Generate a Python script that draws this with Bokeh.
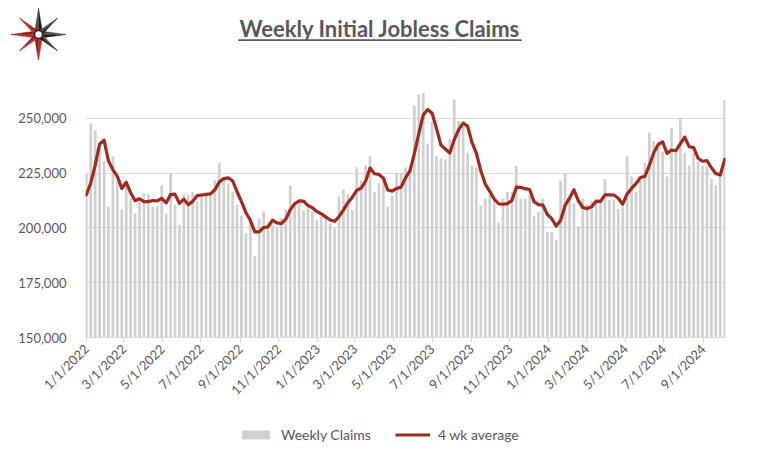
import math
import datetime as dt
from bokeh.plotting import figure
from bokeh.layouts import column
from bokeh.models import (ColumnDataSource, FixedTicker, Legend, LegendItem,
                          Range1d, NumeralTickFormatter)
from bokeh.core.properties import value
from bokeh.embed import file_html
from bokeh.resources import INLINE

# ---------------- data ----------------
first_week = "2022-01-01"

weekly_claims = [
    225100, 247600, 244600, 237400, 230400, 209600, 232600, 221400, 208400, 220800,
    213400, 206700, 212100, 215800, 215600, 209600, 210100, 219400, 206700, 224800,
    210700, 201400, 215400, 215100, 216400, 212000, 215100, 215900, 216400, 221600,
    229700, 222300, 220200, 216400, 210600, 205500, 197600, 204400, 187300, 204400,
    207500, 202800, 201400, 200000, 204400, 208600, 219400, 210600, 211300, 208000,
    209000, 207500, 203700, 205200, 204400, 202100, 199800, 214400, 217400, 215400,
    208300, 227700, 221600, 228600, 232700, 216400, 220500, 221600, 209800, 214700,
    225100, 225100, 227700, 225500, 255700, 260700, 261500, 238400, 248500, 232700,
    231700, 231200, 240400, 258700, 248800, 246000, 234300, 228400, 227400, 210200,
    213300, 215100, 212800, 202400, 213300, 216400, 216400, 228400, 213300, 213300,
    215000, 205500, 207500, 213300, 198300, 198300, 194500, 221600, 225100, 213200,
    211300, 200600, 213300, 210600, 212400, 212800, 212800, 222300, 212800, 212800,
    208600, 209800, 232700, 223500, 216400, 221600, 229700, 243400, 239600, 239300,
    234900, 223500, 245700, 235800, 250300, 234300, 228400, 234300, 230400, 228400,
    228100, 222300, 219400, 225800, 258400,
]

four_week_avg = [
    215100, 220500, 228500, 238300, 240000, 230500, 226500, 223500, 218000, 220800,
    216000, 212400, 213300, 212000, 212000, 212500, 212300, 213500, 211400, 215200,
    215400, 211200, 213100, 210600, 212100, 214700, 215000, 215300, 215500, 217400,
    221000, 222500, 222800, 221500, 216500, 212000, 207000, 203500, 198200, 198200,
    200200, 200500, 203500, 202300, 202000, 204000, 208300, 211000, 212300, 212200,
    210200, 209200, 207500, 206400, 205000, 203600, 203000, 205100, 208200, 211500,
    214000, 217100, 218200, 221300, 227300, 224700, 224400, 222800, 217300, 216800,
    218000, 218600, 222800, 226000, 234000, 243000, 251500, 254000, 252300, 245300,
    237800, 236000, 234200, 240300, 244800, 247800, 246500, 239000, 234000, 226000,
    220000, 216700, 213200, 211000, 210800, 211100, 212500, 218600, 218500, 217900,
    217500, 212000, 210600, 210400, 206100, 204200, 200800, 203500, 210200, 213600,
    217400, 212300, 209300, 208800, 209600, 212200, 212100, 215100, 215100, 215000,
    213500, 210800, 215500, 218000, 220200, 223000, 223500, 228500, 234300, 238000,
    239300, 234000, 235500, 235200, 238400, 241400, 237000, 236600, 231800, 230400,
    230700, 227500, 224800, 224100, 231300,
]

tick_labels = ["1/1/2022", "3/1/2022", "5/1/2022", "7/1/2022", "9/1/2022", "11/1/2022",
               "1/1/2023", "3/1/2023", "5/1/2023", "7/1/2023", "9/1/2023", "11/1/2023",
               "1/1/2024", "3/1/2024", "5/1/2024", "7/1/2024", "9/1/2024"]

y_ticks = [150000, 175000, 200000, 225000, 250000, 275000]

title_text = "Weekly Initial Jobless Claims"
series_names = ["Weekly Claims", "4 wk average"]

# ---------------- derived positions ----------------
origin = dt.date.fromisoformat(first_week)
week_dates = [origin + dt.timedelta(weeks=i) for i in range(len(weekly_claims))]
xs = [(d - origin).days for d in week_dates]


def to_day(s):
    m, d, y = (int(v) for v in s.split("/"))
    return (dt.date(y, m, d) - origin).days


tick_pos = [to_day(s) for s in tick_labels]

src = ColumnDataSource(dict(x=xs, claims=weekly_claims, avg=four_week_avg))

TXT = "#595959"
GRID = "#d9d9d9"
BAR = "#d0d0d0"
RED = "#9f2a1e"
W = 742
TOP_H, MAIN_H, LEG_H = 60, 355, 28
FL, FR, FT, FB = 85, 725, 63, 337     # frame edges in page pixels


def no_align(f):
    if "frame_align" in f.properties():
        f.frame_align = False
    return f


def blank(h):
    f = figure(width=W, height=h, output_backend="svg", toolbar_location=None,
               x_range=Range1d(0, W), y_range=Range1d(h, 0),
               min_border=0, min_border_left=0, min_border_right=0,
               min_border_top=0, min_border_bottom=0,
               x_axis_location=None, y_axis_location=None)
    f.grid.visible = False
    f.outline_line_color = None
    f.background_fill_color = "white"
    f.border_fill_color = "white"
    return no_align(f)


# ---------------- header: logo + title ----------------
top = blank(TOP_H)
top.text(x=[379.5], y=[27.5], text=[title_text], text_align="center",
         text_baseline="alphabetic", text_font=value("Lato"), text_font_style="bold",
         text_font_size=value("22px"), text_color=TXT)
top.segment(x0=[238], y0=[39.6], x1=[521], y1=[39.6], line_color=TXT, line_width=1.6)

cx, cy, scx, scy = 38, 34, 0.95, 0.82
spikes = [  # angle (deg, 0 = east, ccw), length, half-width, colour, shade
    (90, 32, 4.5, "#1c1c1c", "#505050"),
    (270, 32, 4.5, "#8e1b1b", "#b8302a"),
    (180, 29, 4.5, "#8e1b1b", "#b8302a"),
    (0, 29, 4.5, "#1c1c1c", "#505050"),
    (135, 28, 3.2, "#8e1b1b", "#b8302a"),
    (225, 28, 3.2, "#8e1b1b", "#b8302a"),
    (45, 28, 3.2, "#1c1c1c", "#505050"),
    (315, 28, 3.2, "#1c1c1c", "#505050"),
]
pxs, pys, cols = [], [], []
for ang, ln, hw, c1, c2 in spikes:
    a = math.radians(ang)
    ux, uy = math.cos(a), -math.sin(a)
    qx, qy = -uy, ux
    tip = (cx + ux * ln * scx, cy + uy * ln * scy)
    b1 = (cx + qx * hw * scx, cy + qy * hw * scy)
    b2 = (cx - qx * hw * scx, cy - qy * hw * scy)
    for (pa, pb), col in (((b1, tip), c1), ((tip, b2), c2)):
        pxs.append([cx, pa[0], pb[0]])
        pys.append([cy, pa[1], pb[1]])
        cols.append(col)
top.patches(xs=pxs, ys=pys, fill_color=cols, line_color=cols, line_width=0.5)
top.scatter(x=[cx], y=[cy], size=8, marker="circle", fill_color="white",
            line_color="#5a1010", line_width=1.5)

# ---------------- main chart ----------------
p = figure(width=W, height=MAIN_H, output_backend="svg", toolbar_location=None,
           x_range=Range1d(-1.3, xs[-1] + 1.3), y_range=Range1d(y_ticks[0], y_ticks[-1]),
           min_border_left=FL, min_border_right=W - FR, min_border_top=FT - TOP_H,
           min_border_bottom=TOP_H + MAIN_H - FB)
no_align(p)
p.outline_line_color = None
p.background_fill_color = "white"
p.border_fill_color = "white"

bars = p.vbar(x="x", top="claims", bottom=0, width=4.3, source=src,
              fill_color=BAR, line_color=None)
line = p.line(x="x", y="avg", source=src, line_color=RED, line_width=3.2,
              line_join="round", line_cap="round")

p.xaxis.ticker = FixedTicker(ticks=tick_pos)
p.xaxis.major_label_overrides = {pos: lab for pos, lab in zip(tick_pos, tick_labels)}
p.xaxis.major_label_orientation = math.pi / 4
p.xaxis.axis_line_color = GRID
p.xaxis.major_tick_line_color = GRID
p.xaxis.major_tick_out = 5
p.xaxis.major_tick_in = 0
p.xaxis.minor_tick_line_color = None
p.xaxis.major_label_standoff = 4
p.xaxis.major_label_text_font = "Lato"
p.xaxis.major_label_text_font_size = "13px"
p.xaxis.major_label_text_color = TXT
p.xgrid.visible = False

p.yaxis.ticker = FixedTicker(ticks=y_ticks)
p.yaxis.formatter = NumeralTickFormatter(format="0,0")
p.yaxis.major_label_overrides = {y_ticks[-1]: ""}
p.yaxis.axis_line_color = None
p.yaxis.major_tick_line_color = None
p.yaxis.major_tick_out = 0
p.yaxis.major_tick_in = 0
p.yaxis.minor_tick_line_color = None
p.yaxis.major_label_standoff = 19
p.yaxis.major_label_text_font = "Lato"
p.yaxis.major_label_text_font_size = "13px"
p.yaxis.major_label_text_color = TXT
p.ygrid.grid_line_color = GRID
p.ygrid.grid_line_width = 1

# ---------------- legend strip ----------------
leg = blank(LEG_H)
handle = ColumnDataSource(dict(x=[-1000, -999], y=[-1000, -1000]))   # off-canvas legend handles
lb = leg.vbar(x="x", top="y", width=1, source=handle, fill_color=BAR, line_color=None)
ll = leg.line(x="x", y="y", source=handle, line_color=RED, line_width=3.2)
legend = Legend(items=[LegendItem(label=series_names[0], renderers=[lb]),
                       LegendItem(label=series_names[1], renderers=[ll])],
                orientation="horizontal", location=(238, 0),
                padding=0, margin=0, spacing=24, glyph_width=35, glyph_height=11,
                label_standoff=8, border_line_color=None, background_fill_alpha=0,
                label_text_font="Lato", label_text_font_size="14px",
                label_text_color=TXT)
leg.add_layout(legend)

page = column(top, p, leg, spacing=0)
open("out.html", "w").write(file_html(page, INLINE))
